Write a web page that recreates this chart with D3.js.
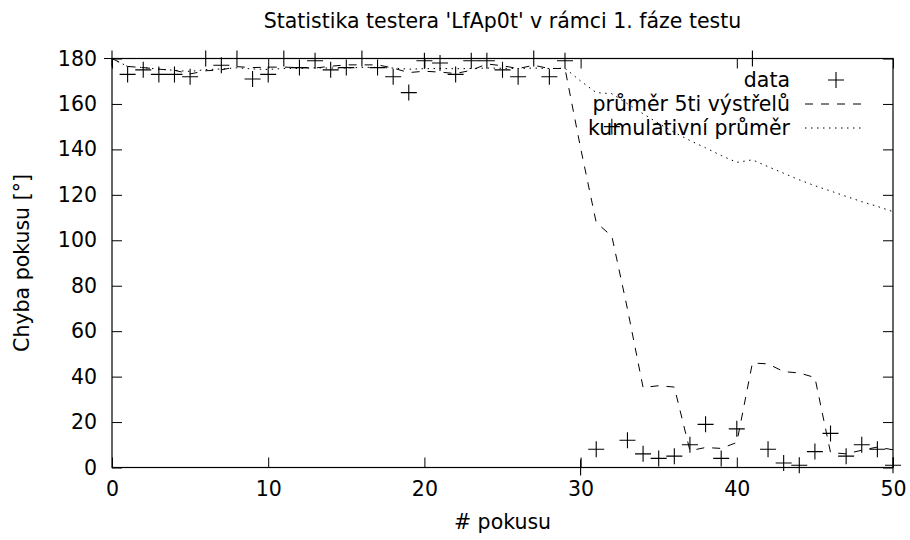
<!DOCTYPE html>
<html>
<head>
<meta charset="utf-8">
<script src="https://cdn.jsdelivr.net/npm/d3@7"></script>
<style>
  body { margin: 0; background: #fff; }
  svg { display: block; font-family: "DejaVu Sans", sans-serif; }
</style>
</head>
<body>
<div id="canvas"></div>
<script>
// chyba pokusu (stupne), jeden bod na pokus 0..50
var errorData = [180, 173, 175, 173, 173, 172, 180, 177, 180, 171, 173, 180, 176, 179, 175, 176, 180, 176, 172, 165,
    179, 178, 173, 179, 179, 175, 172, 180, 172, 179, 0, 8, 150, 12, 6, 4, 5, 10, 19, 4,
    17, 180, 8, 2, 1, 7, 15, 5, 10, 8, 1];
var avg5Data = [180, 176.5, 176, 175.3, 174.8, 173.2, 174.6, 175, 176.4, 176, 176.2, 176.2, 176, 175.8, 176.6, 177.2, 177.2, 177.2, 175.8, 173.8,
    174.4, 174, 173.4, 174.8, 177.6, 176.8, 175.6, 177, 175.6, 175.6, 140.6, 107.8, 101.8, 69.8, 35.2, 36, 35.4, 7.4, 8.8, 8.4,
    11, 46, 45.6, 42.2, 41.6, 39.6, 6.6, 6, 7.6, 9, 7.8];
var cumAvgData = [180, 176.5, 176, 175.3, 174.8, 174.3, 175.1, 175.4, 175.9, 175.4, 175.2, 175.6, 175.6, 175.9, 175.8, 175.8, 176.1, 176.1, 175.8, 175.3,
    175.5, 175.6, 175.5, 175.6, 175.8, 175.7, 175.6, 175.8, 175.6, 175.7, 170.1, 165, 164.5, 160.1, 155.7, 151.4, 147.5, 143.9, 140.7, 137.3,
    134.3, 135.4, 132.4, 129.5, 126.6, 124, 121.7, 119.3, 117, 114.9, 112.6];
var xTicks = [0, 10, 20, 30, 40, 50];
var yTicks = [0, 20, 40, 60, 80, 100, 120, 140, 160, 180];
var legendLabels = ["data", "průměr 5ti výstřelů", "kumulativní průměr"];

var w = 910;
var h = 540;
var plotLeft = 112, plotRight = 893, plotTop = 58.5, plotBottom = 467.5;
var fontSize = 20.5;

var svg = d3.select("#canvas")
    .append("svg")
    .attr("width", w)
    .attr("height", h);

var x = d3.scaleLinear().domain([0, 50]).range([plotLeft, plotRight]);
var y = d3.scaleLinear().domain([0, 180]).range([plotBottom, plotTop]);

// ticks on all four sides, pointing inwards
var axisB = d3.axisBottom(x).tickValues(xTicks).tickSizeInner(-10).tickSizeOuter(0).tickPadding(14);
var axisT = d3.axisTop(x).tickValues(xTicks).tickSizeInner(-10).tickSizeOuter(0).tickFormat("");
var axisL = d3.axisLeft(y).tickValues(yTicks).tickSizeInner(-10).tickSizeOuter(0).tickPadding(15);
var axisR = d3.axisRight(y).tickValues(yTicks).tickSizeInner(-10).tickSizeOuter(0).tickFormat("");

function styleAxis(g) {
    g.select(".domain").remove();
    g.selectAll("line").attr("stroke", "#000").attr("stroke-width", 1);
    g.selectAll("text").attr("font-size", fontSize).attr("font-family", "DejaVu Sans").attr("fill", "#000");
}
svg.append("g").attr("transform", "translate(0," + plotBottom + ")").call(axisB).call(styleAxis);
svg.append("g").attr("transform", "translate(0," + plotTop + ")").call(axisT).call(styleAxis);
svg.append("g").attr("transform", "translate(" + plotLeft + ",0)").call(axisL).call(styleAxis);
svg.append("g").attr("transform", "translate(" + plotRight + ",0)").call(axisR).call(styleAxis);

svg.append("rect")
    .attr("x", plotLeft)
    .attr("y", plotTop)
    .attr("width", plotRight - plotLeft)
    .attr("height", plotBottom - plotTop)
    .attr("fill", "none")
    .attr("stroke", "#000")
    .attr("stroke-width", 1.2);

var line = d3.line()
    .x(function (d, i) { return x(i); })
    .y(function (d) { return y(d); });

svg.append("path")
    .datum(avg5Data)
    .attr("d", line)
    .attr("fill", "none")
    .attr("stroke", "#000")
    .attr("stroke-width", 1)
    .attr("stroke-dasharray", "8,8");

svg.append("path")
    .datum(cumAvgData)
    .attr("d", line)
    .attr("fill", "none")
    .attr("stroke", "#000")
    .attr("stroke-width", 1)
    .attr("stroke-dasharray", "1.5,4.5");

var plus = function (g, cx, cy) {
    g.append("path")
        .attr("d", "M" + (cx - 8) + "," + cy + "H" + (cx + 8) + "M" + cx + "," + (cy - 8) + "V" + (cy + 8))
        .attr("stroke", "#000")
        .attr("stroke-width", 1.1)
        .attr("fill", "none");
};
var pts = svg.append("g");
errorData.forEach(function (d, i) { plus(pts, x(i), y(d)); });

// legend
var legend = svg.append("g");
var legendY = [80, 104, 128];
legendLabels.forEach(function (label, i) {
    legend.append("text")
        .attr("x", 790)
        .attr("y", legendY[i])
        .attr("dy", "0.36em")
        .attr("text-anchor", "end")
        .attr("font-size", fontSize)
        .text(label);
});
plus(legend, 836, legendY[0]);
legend.append("line")
    .attr("x1", 805).attr("x2", 863)
    .attr("y1", legendY[1]).attr("y2", legendY[1])
    .attr("stroke", "#000")
    .attr("stroke-dasharray", "8,8");
legend.append("line")
    .attr("x1", 805).attr("x2", 863)
    .attr("y1", legendY[2]).attr("y2", legendY[2])
    .attr("stroke", "#000")
    .attr("stroke-dasharray", "1.5,4.5");

// titles
svg.append("text")
    .attr("x", (plotLeft + plotRight) / 2)
    .attr("y", 28)
    .attr("text-anchor", "middle")
    .attr("font-size", fontSize)
    .text("Statistika testera 'LfAp0t' v rámci 1. fáze testu");
svg.append("text")
    .attr("x", (plotLeft + plotRight) / 2)
    .attr("y", 529)
    .attr("text-anchor", "middle")
    .attr("font-size", fontSize)
    .text("# pokusu");
svg.append("text")
    .attr("transform", "translate(29," + ((plotTop + plotBottom) / 2) + ") rotate(-90)")
    .attr("text-anchor", "middle")
    .attr("font-size", fontSize)
    .text("Chyba pokusu [°]");
</script>
</body>
</html>
